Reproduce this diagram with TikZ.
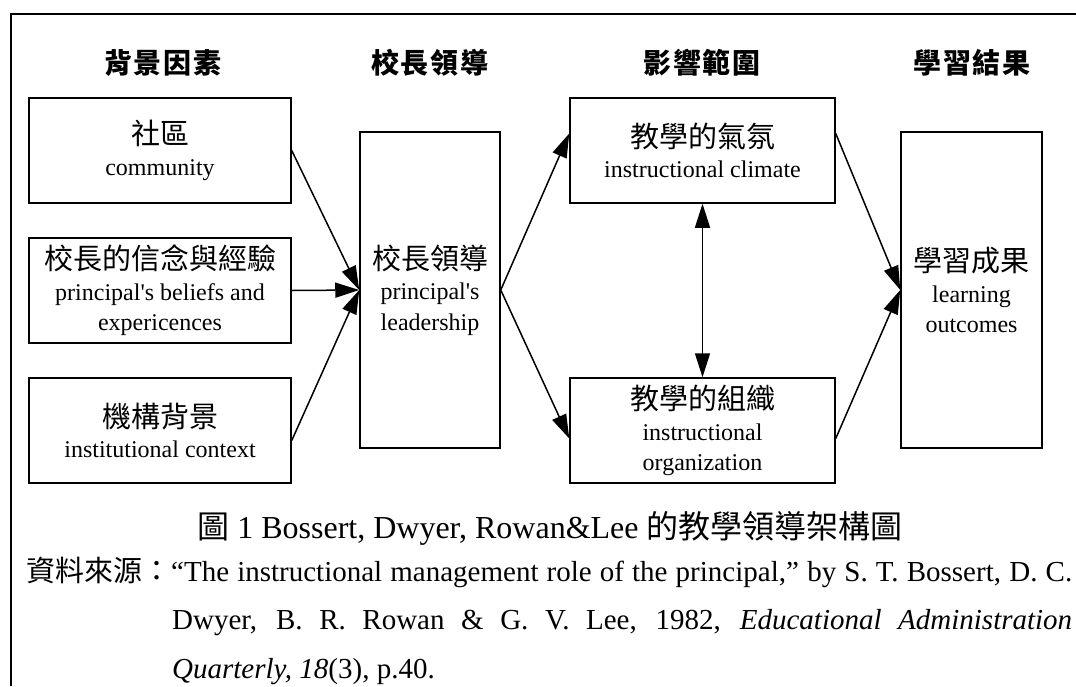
\documentclass[tikz,border=0pt]{standalone}
\usepackage{fontspec}
\setmainfont{Liberation Serif}
\newfontfamily\cjk{Noto Sans CJK TC}
\newfontfamily\cjkhd[LetterSpace=7]{Noto Sans CJK TC}
\usetikzlibrary{arrows.meta}
\newcommand{\zh}[1]{{\cjk\fontsize{29}{30.5}\selectfont #1}}
\tikzset{
	factor/.style={draw, line width=1.5pt, inner sep=0pt, align=center, minimum width=262pt, minimum height=105pt, font=\fontsize{24}{30.5}\selectfont},
	tall/.style={factor, minimum width=140pt, minimum height=316pt},
	heading/.style={font=\cjkhd\bfseries\fontsize{28}{28}\selectfont},
	source/.style={anchor=west, inner sep=0pt, font=\fontsize{29}{34}\selectfont},
	tip/.style={-{Triangle[length=24pt,width=15pt]}},
	flow/.style={line width=1.5pt, tip},
}

\begin{document}
\begin{tikzpicture}[x=1pt, y=-1pt]
		%%%%% START %%%%%
		\useasboundingbox (0, 0) rectangle (1076, 686);
		\draw[line width=2pt] (11, 686) -- (11, 14) -- (1076, 14);
		
		\node[heading] (hdbg) at (163, 63) {背景因素};
		\node[heading] (hdlead) at (430, 63) {校長領導};
		\node[heading] (hdscope) at (702, 63) {影響範圍};
		\node[heading] (hdresult) at (972, 63) {學習結果};
		
		\node[factor] (comm) at (160, 150.5) {\zh{社區}\\community};
		\node[factor] (belief) at (160, 290.5) {\zh{校長的信念與經驗}\\principal\textquotesingle s beliefs and\\expericences};
		\node[factor] (inst) at (160, 430.5) {\zh{機構背景}\\institutional context};
		
		\node[tall] (lead) at (430, 290) {\zh{校長領導}\\principal\textquotesingle s\\leadership};
		
		\node[factor, minimum width=265pt] (clim) at (702.5, 150.5) {\zh{教學的氣氛}\\instructional climate};
		\node[factor, minimum width=265pt] (org) at (702.5, 430.5) {\zh{教學的組織}\\instructional\\organization};
		
		\node[tall, minimum width=141pt] (learn) at (971.5, 290) {\zh{學習成果}\\learning\\outcomes};
		
		\draw[flow] (comm.east) -- (lead.west);
		\draw[flow] (belief.east) -- (lead.west);
		\draw[flow] ([yshift=-10pt]inst.east) -- (lead.west);
		\draw[flow] (lead.east) -- ([yshift=17pt]clim.west);
		\draw[flow] (lead.east) -- ([yshift=-8pt]org.west);
		\draw[flow] ([yshift=17pt]clim.east) -- (learn.west);
		\draw[flow] ([yshift=-8pt]org.east) -- (learn.west);
		\draw[line width=1.5pt, {Triangle[length=24pt,width=15pt]}-{Triangle[length=24pt,width=15pt]}] (clim.south) -- (org.north);
		
		\node[font=\fontsize{32}{34}\selectfont] (cap) at (550, 528) {{\cjk 圖} 1 Bossert, Dwyer, Rowan\&Lee {\cjk 的教學領導架構圖}};
		
		\node[source] (src1) at (26, 572) {\makebox[1046pt][s]{\zh{資料來源：}“The instructional management role of the principal,” by S. T. Bossert, D. C.}};
		\node[source] (src2) at (172, 623) {\makebox[900pt][s]{Dwyer, B. R. Rowan \& G. V. Lee, 1982, \textit{Educational Administration}}};
		\node[source] (src3) at (172, 672) {\textit{Quarterly, 18}(3), p.40.};
		%%%%% END %%%%%
\end{tikzpicture}
\end{document}
